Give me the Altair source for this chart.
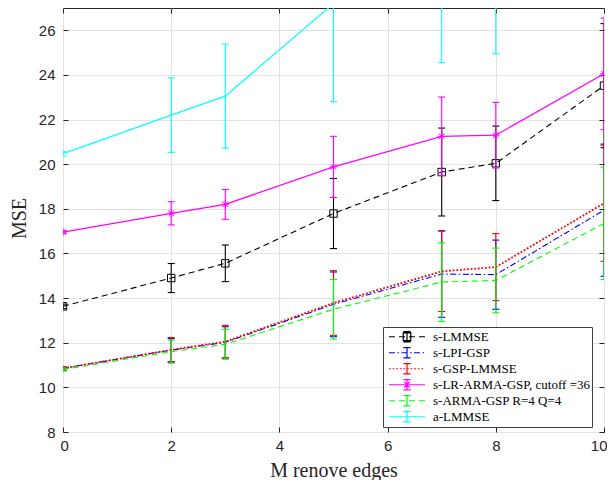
import altair as alt
import pandas as pd

# ---------------- data ----------------
x_vals = [0, 2, 3, 5, 7, 8, 10]
names = ["s-LMMSE", "s-LPI-GSP", "s-GSP-LMMSE",
         "s-LR-ARMA-GSP, cutoff =36", "s-ARMA-GSP R=4 Q=4", "a-LMMSE"]

s_lmmse = [13.63, 14.90, 15.56, 17.79, 19.65, 20.04, 23.52]
s_lmmse_err = [0.10, 0.65, 0.82, 1.57, 1.97, 1.67, 2.78]

s_lpi_gsp = [10.85, 11.67, 12.02, 13.72, 15.08, 15.05, 17.94]
s_lpi_gsp_err = [0.08, 0.52, 0.70, 1.45, 1.94, 1.55, 2.96]

s_gsp_lmmse = [10.85, 11.68, 12.05, 13.78, 15.20, 15.39, 18.25]
s_gsp_lmmse_err = [0.08, 0.55, 0.73, 1.45, 1.80, 1.50, 2.60]

s_lr_arma = [16.96, 17.80, 18.20, 19.88, 21.25, 21.30, 24.05]
s_lr_arma_err = [0.06, 0.52, 0.67, 1.37, 1.76, 1.47, 2.50]

s_arma = [10.80, 11.60, 11.93, 13.50, 14.72, 14.79, 17.35]
s_arma_err = [0.07, 0.52, 0.67, 1.34, 1.76, 1.45, 2.52]

a_lmmse = [20.47, 22.20, 23.05, 27.20, 29.00, 29.60, 33.00]
a_lmmse_err = [0.10, 1.67, 2.33, 4.40, 4.45, 4.65, 5.00]

means = [s_lmmse, s_lpi_gsp, s_gsp_lmmse, s_lr_arma, s_arma, a_lmmse]
errs = [s_lmmse_err, s_lpi_gsp_err, s_gsp_lmmse_err, s_lr_arma_err, s_arma_err, a_lmmse_err]

x_ticks = [0, 2, 4, 6, 8, 10]
y_ticks = [8, 10, 12, 14, 16, 18, 20, 22, 24, 26]

# ---------------- styles ----------------
colors = ["#000000", "#0000ff", "#ff0000", "#ff00ff", "#00ff00", "#00ffff"]
dashes = [[6, 4], [6, 2.5, 1.5, 2.5], [1.8, 1.8], None, [6, 4], None]
widths = [1.1, 1.1, 1.8, 1.2, 1.1, 1.2]
markers = ["square", None, None, "asterisk", None, None]

AST = "M-1,0L1,0M-0.72,-0.72L0.72,0.72M-0.72,0.72L0.72,-0.72M0,-1L0,1"
AXC = "#262626"

xscale = alt.Scale(domain=[0, 10], nice=False, zero=False)
yscale = alt.Scale(domain=[8, 27], nice=False, zero=False)

# legend symbol paths (unit = 18 px when size = 1296)
U = 18.0


def seg(a, b):
    return f"M{a / U:.3f},0L{b / U:.3f},0"


def line_path(pattern):
    if pattern is None:
        return seg(-18, 18)
    out, pos, i = [], -18.0, 0
    while pos < 18:
        L = pattern[i % len(pattern)]
        if i % 2 == 0:
            out.append(seg(pos, min(pos + L, 18)))
        pos += L
        i += 1
    return "".join(out)


ebar = "M0,-0.28L0,0.28M-0.2,-0.28L0.2,-0.28M-0.2,0.28L0.2,0.28"
sq = "M-0.21,-0.21L0.21,-0.21L0.21,0.21L-0.21,0.21Z"
ast = "M-0.22,0L0.22,0M-0.16,-0.16L0.16,0.16M-0.16,0.16L0.16,-0.16M0,-0.22L0,0.22"
paths = []
for i in range(len(names)):
    p = line_path(dashes[i]) + ebar
    if markers[i] == "square":
        p += sq
    elif markers[i] == "asterisk":
        p += ast
    paths.append(p)

layers = []
for i, nm in enumerate(names):
    df = pd.DataFrame({
        "x": x_vals,
        "y": means[i],
        "lo": [m - e for m, e in zip(means[i], errs[i])],
        "hi": [m + e for m, e in zip(means[i], errs[i])],
    })
    base = alt.Chart(df)
    X = alt.X("x:Q", scale=xscale, axis=None)
    c = colors[i]
    rule = base.mark_rule(color=c, strokeWidth=1.1, clip=True).encode(
        x=X, y=alt.Y("lo:Q", scale=yscale, axis=None), y2="hi:Q")
    cap_lo = base.mark_tick(color=c, size=7, thickness=1.1, orient="horizontal",
                            clip=True, opacity=1).encode(
        x=X, y=alt.Y("lo:Q", scale=yscale, axis=None))
    cap_hi = base.mark_tick(color=c, size=7, thickness=1.1, orient="horizontal",
                            clip=True, opacity=1).encode(
        x=X, y=alt.Y("hi:Q", scale=yscale, axis=None))
    lkw = dict(color=c, strokeWidth=widths[i], clip=True)
    if dashes[i] is not None:
        lkw["strokeDash"] = dashes[i]
    line = base.mark_line(**lkw).encode(x=X, y=alt.Y("y:Q", scale=yscale, axis=None))
    layers += [rule, cap_lo, cap_hi, line]
    if markers[i] == "square":
        layers.append(base.mark_point(shape="square", filled=False, size=55, color=c,
                                      strokeWidth=1, opacity=1, clip=True).encode(
            x=X, y=alt.Y("y:Q", scale=yscale, axis=None)))
    elif markers[i] == "asterisk":
        layers.append(base.mark_point(shape=AST, filled=False, size=64, color=c,
                                      strokeWidth=1, opacity=1, clip=True).encode(
            x=X, y=alt.Y("y:Q", scale=yscale, axis=None)))

# axes layers
axdf = pd.DataFrame({"x": x_vals, "y": s_lmmse})
bottom_axis = alt.Axis(values=x_ticks, orient="bottom", offset=-5, tickSize=5,
                       tickColor=AXC, tickWidth=1, domain=False, grid=True,
                       gridColor="#e3e3e3", gridWidth=1, labelFont="Liberation Sans",
                       labelFontSize=15, labelColor=AXC, labelPadding=6,
                       labelFlush=True, labelFlushOffset=3,
                       title="M renove edges", titleFont="Liberation Serif",
                       titleFontSize=20, titleFontWeight="normal", titleColor=AXC,
                       titleX=270.5, titleY=43, titleBaseline="middle", titleAlign="center")
left_axis = alt.Axis(values=y_ticks, orient="left", offset=-5, tickSize=5,
                     tickColor=AXC, tickWidth=1, domain=False, grid=True,
                     gridColor="#e3e3e3", gridWidth=1, labelFont="Liberation Sans",
                     labelFontSize=15, labelColor=AXC, labelPadding=8, labelFlush=False,
                     title="MSE", titleFont="Liberation Serif", titleFontSize=20,
                     titleFontWeight="normal", titleColor=AXC, titleX=-49, titleY=210,
                     titleBaseline="middle", titleAlign="center", titleAngle=-90)
top_axis = alt.Axis(values=x_ticks, orient="top", offset=-5, tickSize=5, tickColor=AXC,
                    tickWidth=1, domain=False, grid=False, labels=False, title=None)
right_axis = alt.Axis(values=y_ticks, orient="right", offset=-5, tickSize=5, tickColor=AXC,
                      tickWidth=1, domain=False, grid=False, labels=False, title=None)

ax1 = alt.Chart(axdf).mark_point(opacity=0).encode(
    x=alt.X("x:Q", scale=xscale, axis=bottom_axis),
    y=alt.Y("y:Q", scale=yscale, axis=left_axis))
ax2 = alt.Chart(axdf).mark_point(opacity=0).encode(
    x=alt.X("x:Q", scale=xscale, axis=top_axis),
    y=alt.Y("y:Q", scale=yscale, axis=right_axis))

leg = alt.Legend(title=None, orient="none", legendX=320, legendY=319, padding=2,
                 fillColor="white", strokeColor="#404040",
                 labelFont="Liberation Serif", labelFontSize=13, labelColor="#000000",
                 symbolSize=1296, symbolStrokeWidth=1.2, clipHeight=15.5, rowPadding=0,
                 labelOffset=7, symbolOffset=3, symbolOpacity=1, labelLimit=300)
legdf = pd.DataFrame({"series": names})
leg_layer = alt.Chart(legdf).mark_point(filled=False, opacity=0, size=1296).encode(
    color=alt.Color("series:N", scale=alt.Scale(domain=names, range=colors), legend=leg),
    shape=alt.Shape("series:N", scale=alt.Scale(domain=names, range=paths), legend=leg))

chart = alt.layer(ax1, *layers, ax2, leg_layer).resolve_axis(
    x="independent", y="independent").properties(
    width=541, height=424,
    autosize=alt.AutoSizeParams(type="none"),
    padding={"left": 55, "top": 0, "right": 3, "bottom": 48},
    background="white",
).configure_view(stroke=AXC, strokeWidth=1)

chart.save("out.html", embed_options={"renderer": "svg", "actions": False})
